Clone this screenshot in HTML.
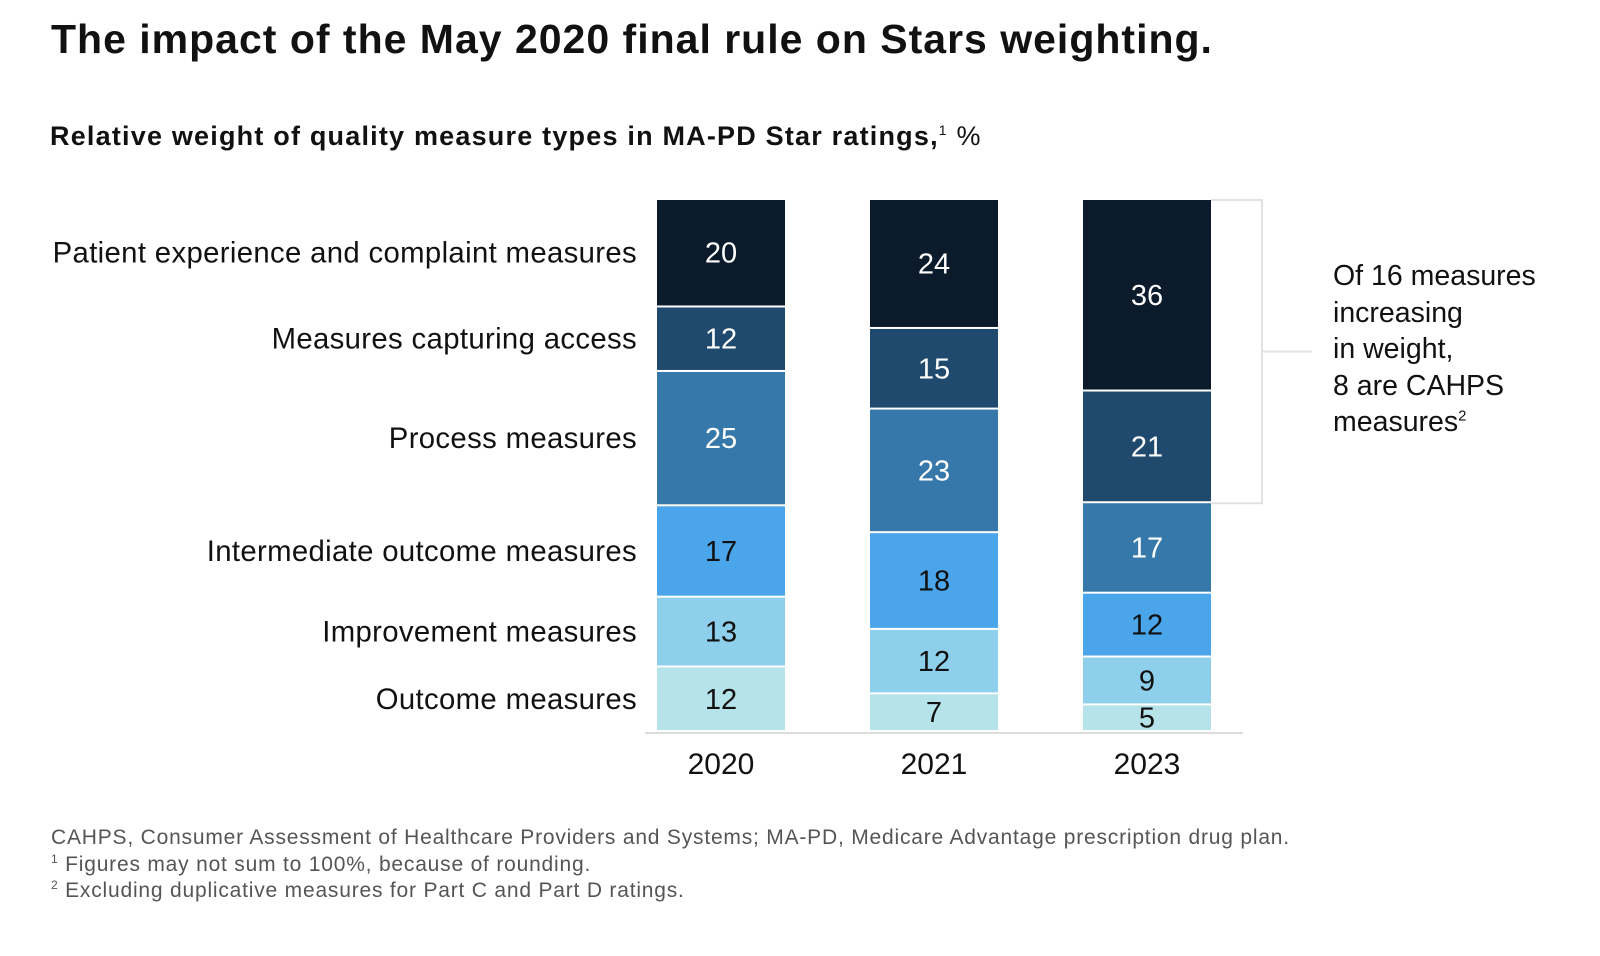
<!DOCTYPE html>
<html><head><meta charset="utf-8">
<style>
body{margin:0;background:#fff;width:1600px;height:956px;overflow:hidden;font-family:"Liberation Sans",sans-serif;color:#111;}
.t{position:absolute;white-space:nowrap;}
sup{line-height:0;}
</style></head>
<body>
<div class="t" style="left:51px;top:16px;font-size:41px;font-weight:bold;letter-spacing:1px;">The impact of the May 2020 final rule on Stars weighting.</div>
<div class="t" style="left:50px;top:121px;font-size:27px;font-weight:bold;letter-spacing:1.2px;">Relative weight of quality measure types in MA-PD Star ratings,<sup style="font-size:14px;font-weight:normal">1</sup><span style="font-weight:normal"> %</span></div>
<svg id="chart" width="1600" height="956" style="position:absolute;left:0;top:0;font-family:'Liberation Sans',sans-serif"></svg>
<div class="t" style="left:1333px;top:258px;font-size:28.5px;line-height:36.5px;color:#111;">Of 16 measures<br>increasing<br>in weight,<br>8 are CAHPS<br>measures<sup style="font-size:15px">2</sup></div>
<div class="t" style="left:51px;top:825px;font-size:21px;line-height:26.5px;color:#555;letter-spacing:0.8px;">CAHPS, Consumer Assessment of Healthcare Providers and Systems; MA-PD, Medicare Advantage prescription drug plan.<br><sup style="font-size:12px">1</sup> Figures may not sum to 100%, because of rounding.<br><sup style="font-size:12px">2</sup> Excluding duplicative measures for Part C and Part D ratings.</div>
<script>
const years=["2020","2021","2023"];
const categories=["Patient experience and complaint measures","Measures capturing access","Process measures","Intermediate outcome measures","Improvement measures","Outcome measures"];
const v2020=[20,12,25,17,13,12];
const v2021=[24,15,23,18,12,7];
const v2023=[36,21,17,12,9,5];
const series=[v2020,v2021,v2023];
const colors=["#0c1b2c","#1f4a6e","#3578a9","#4aa5ea","#8ed0ec","#b6e2ea"];
const textColors=["#fff","#fff","#fff","#111","#111","#111"];
const svg=document.getElementById('chart');
const NS="http://www.w3.org/2000/svg";
const top0=200,bottom0=732,barW=128;
function xPos(i){return 657+i*213;}
function mk(tag,attrs){const e=document.createElementNS(NS,tag);for(const k in attrs)e.setAttribute(k,attrs[k]);svg.appendChild(e);return e;}
const ax=mk('line',{x1:645,x2:1243,y1:733,y2:733,stroke:'#ddd','stroke-width':2});


series.forEach((vals,i)=>{
  const total=vals.reduce((a,b)=>a+b,0);
  const scale=(bottom0-top0)/total;
  let y=top0;
  vals.forEach((v,j)=>{
    const h=v*scale;
    const r=mk('rect',{x:xPos(i),y:y,width:barW,height:Math.max(h-2,0),fill:colors[j]});
    
    
    const t=mk('text',{x:xPos(i)+barW/2,y:y+(h-2)/2+10,'text-anchor':'middle','font-size':29,fill:textColors[j]});
    t.textContent=v;
    
    
    if(i===0){
      const c=mk('text',{x:637,y:y+(h-2)/2+10,'text-anchor':'end','font-size':29.3,fill:'#111','letter-spacing':0.35});
      c.textContent=categories[j];
      
      
    }
    y+=h;
  });
  const yl=mk('text',{x:xPos(i)+barW/2,y:774,'text-anchor':'middle','font-size':30,fill:'#111'});
  yl.textContent=years[i];
  
  
});
const v=v2023, tot=v.reduce((a,b)=>a+b,0), sc=(bottom0-top0)/tot;
const yb=top0+(v[0]+v[1])*sc;
const br=mk('path',{d:`M${xPos(2)+barW} ${top0} H1262 V${yb} H${xPos(2)+barW} M1262 ${(top0+yb)/2} H1312`,fill:'none',stroke:'#e2e2e2','stroke-width':2});


</script>
</body></html>
